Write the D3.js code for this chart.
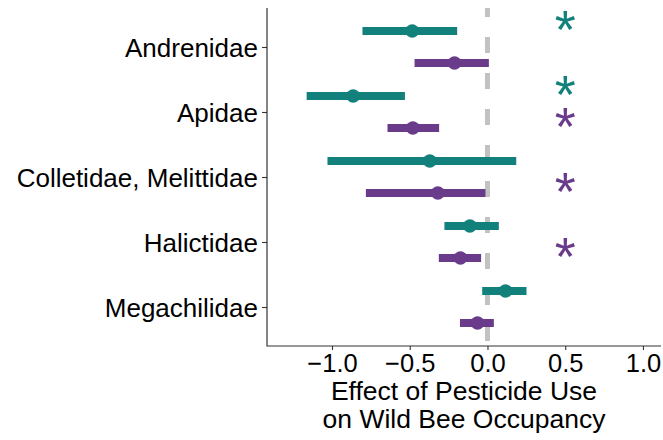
<!DOCTYPE html>
<html>
<head>
<meta charset="utf-8">
<script src="https://cdn.jsdelivr.net/npm/d3@7"></script>
<style>
  body { margin: 0; background: #fff; }
  svg text { font-family: "Liberation Sans", Arial, Helvetica, sans-serif; fill: #000; }
</style>
</head>
<body>
<div id="viz"></div>
<script>
// bee families (top to bottom)
const families = ["Andrenidae", "Apidae", "Colletidae, Melittidae", "Halictidae", "Megachilidae"];
const groups = ["teal", "purple"];
const groupColors = ["#12817c", "#6a3b8b"];

// effect estimates with lower / upper interval, one per family
const tealMean = [-0.484, -0.864, -0.371, -0.113, 0.116];
const tealLow = [-0.804, -1.163, -1.029, -0.277, -0.034];
const tealHigh = [-0.195, -0.531, 0.185, 0.073, 0.251];
const purpleMean = [-0.212, -0.480, -0.319, -0.174, -0.064];
const purpleLow = [-0.469, -0.643, -0.782, -0.313, -0.177];
const purpleHigh = [0.009, -0.311, -0.013, -0.041, 0.041];
// significance stars
const tealSig = [true, true, false, false, false];
const purpleSig = [false, true, true, true, false];

const xTicks = [-1.0, -0.5, 0.0, 0.5, 1.0];
const xTitle = ["Effect of Pesticide Use", "on Wild Bee Occupancy"];
const starX = 0.5;

const W = 663, H = 440;
const margin = {left: 267, right: 2, top: 8, bottom: 94};

function buildRows() {
    const rows = [];
    families.forEach((f, i) => {
        rows.push({family: f, group: "teal", mean: tealMean[i], low: tealLow[i], high: tealHigh[i], sig: tealSig[i]});
        rows.push({family: f, group: "purple", mean: purpleMean[i], low: purpleLow[i], high: purpleHigh[i], sig: purpleSig[i]});
    });
    return rows;
}

function buildChart() {
    const rows = buildRows();
    const svg = d3.select("#viz").append("svg")
        .attr("width", W)
        .attr("height", H);
    svg.append("rect").attr("width", W).attr("height", H).attr("fill", "#fff");

    const x = d3.scaleLinear()
        .domain([-1.418, 1.116])
        .range([margin.left, W - margin.right]);
    const y = d3.scalePoint()
        .domain(families)
        .range([margin.top, H - margin.bottom])
        .padding(0.6);
    const dodge = d3.scalePoint().domain(groups).range([-16, 16]);
    const color = d3.scaleOrdinal().domain(groups).range(groupColors);
    const yPos = d => y(d.family) + dodge(d.group);

    // dashed zero line
    svg.append("line")
        .attr("x1", x(0)).attr("x2", x(0))
        .attr("y1", margin.top).attr("y2", H - margin.bottom)
        .attr("stroke", "#c2c2c2")
        .attr("stroke-width", 5)
        .attr("stroke-dasharray", "16,20")
        .attr("stroke-dashoffset", 7);

    // intervals
    svg.append("g").selectAll("line")
        .data(rows)
        .join("line")
        .attr("x1", d => x(d.low))
        .attr("x2", d => x(d.high))
        .attr("y1", yPos)
        .attr("y2", yPos)
        .attr("stroke", d => color(d.group))
        .attr("stroke-width", 8);

    // point estimates
    svg.append("g").selectAll("circle")
        .data(rows)
        .join("circle")
        .attr("cx", d => x(d.mean))
        .attr("cy", yPos)
        .attr("r", 6.8)
        .attr("fill", d => color(d.group));

    // stars
    svg.append("g").selectAll("text")
        .data(rows.filter(d => d.sig))
        .join("text")
        .attr("x", x(starX))
        .attr("y", d => yPos(d) - 11.5)
        .attr("dy", 28)
        .attr("text-anchor", "middle")
        .style("font-size", "54px")
        .style("fill", d => color(d.group))
        .text("*");

    // axes (own domain lines, so no end ticks)
    const xAxis = svg.append("g")
        .attr("transform", `translate(0,${H - margin.bottom})`)
        .call(d3.axisBottom(x).tickValues(xTicks).tickSizeOuter(0).tickSize(4).tickPadding(5)
            .tickFormat(d => d3.format(".1f")(d).replace("-", "\u2212")));
    xAxis.select(".domain").remove();
    xAxis.selectAll(".tick line").attr("stroke", "#333").attr("stroke-width", 1.1);
    xAxis.selectAll(".tick text")
        .attr("y", null).attr("dy", null)
        .attr("transform", "translate(0,26)")
        .style("font-size", "25.5px");

    const yAxis = svg.append("g")
        .attr("transform", `translate(${margin.left},0)`)
        .call(d3.axisLeft(y).tickSizeOuter(0).tickSize(5).tickPadding(4));
    yAxis.select(".domain").remove();
    yAxis.selectAll(".tick line").attr("stroke", "#333").attr("stroke-width", 1.1);
    yAxis.selectAll(".tick text")
        .attr("dy", "0.36em")
        .style("font-size", "26px");

    svg.append("path")
        .attr("d", `M${margin.left},${margin.top}V${H - margin.bottom}H${W - margin.right}`)
        .attr("fill", "none")
        .attr("stroke", "#333")
        .attr("stroke-width", 1.2);

    // axis title
    const cx = (margin.left + W - margin.right) / 2;
    svg.append("g").selectAll("text")
        .data(xTitle)
        .join("text")
        .attr("x", cx)
        .attr("y", (d, i) => 400 + i * 28)
        .attr("text-anchor", "middle")
        .style("font-size", "26.5px")
        .text(d => d);
}

buildChart();
</script>
</body>
</html>
